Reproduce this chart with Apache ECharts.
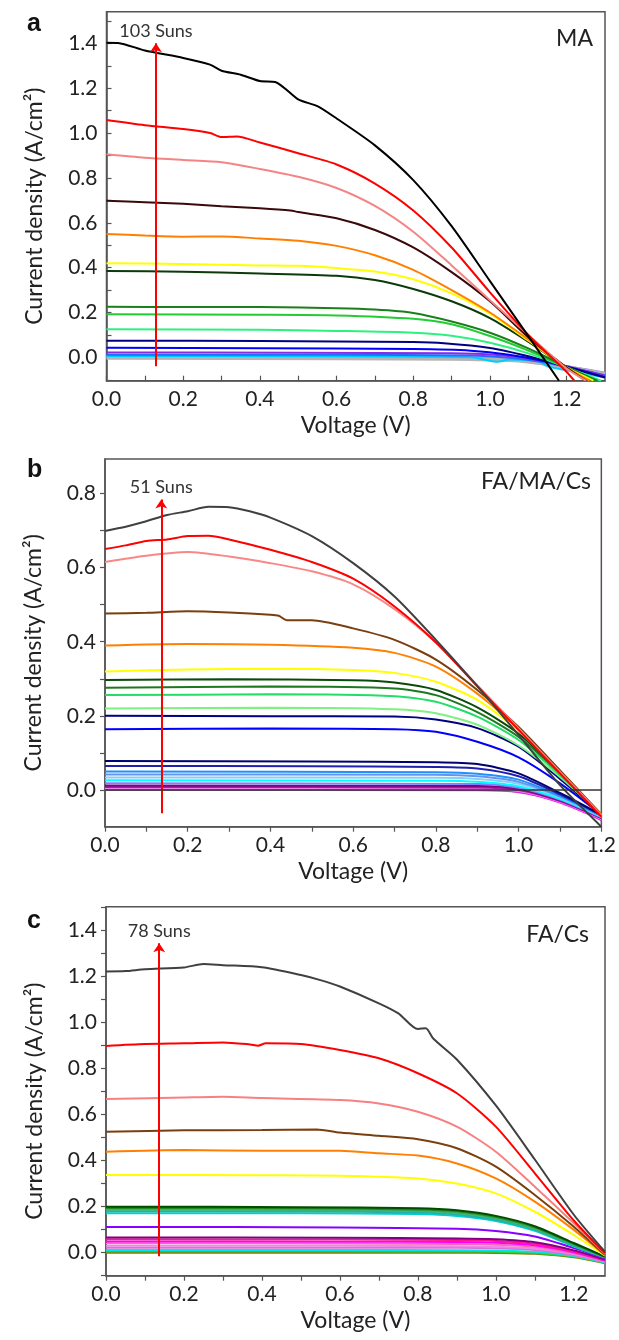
<!DOCTYPE html>
<html>
<head>
<meta charset="utf-8">
<script src="https://cdn.jsdelivr.net/npm/echarts@6.0.0/dist/echarts.min.js"></script>
<style>
  html, body { margin: 0; padding: 0; background: #fff; }
  #chart { width: 619px; height: 1340px; }
</style>
</head>
<body>
<div id="chart"></div>
<script>
// ---------- data ----------
const panelLetters = ["a", "b", "c"];
const panelNames = ["MA", "FA/MA/Cs", "FA/Cs"];
const sunsLabels = ["103 Suns", "51 Suns", "78 Suns"];

// arrow: [voltage, J start, J end]
const maArrow = [0.129, -0.04, 1.40];
const fmcArrow = [0.136, -0.063, 0.784];
const fcArrow = [0.1365, -0.015, 1.345];

const xLabelValues = [0, 0.2, 0.4, 0.6, 0.8, 1.0, 1.2];
const xTickValues = [0, 0.1, 0.2, 0.3, 0.4, 0.5, 0.6, 0.7, 0.8, 0.9, 1.0, 1.1, 1.2];
const maYLabels = [0, 0.2, 0.4, 0.6, 0.8, 1.0, 1.2, 1.4];
const maYTicks = [-0.1, 0, 0.1, 0.2, 0.3, 0.4, 0.5, 0.6, 0.7, 0.8, 0.9, 1.0, 1.1, 1.2, 1.3, 1.4, 1.5];
const fmcYLabels = [0, 0.2, 0.4, 0.6, 0.8];
const fmcYTicks = [-0.1, 0, 0.1, 0.2, 0.3, 0.4, 0.5, 0.6, 0.7, 0.8];
const fcYLabels = [0, 0.2, 0.4, 0.6, 0.8, 1.0, 1.2, 1.4];
const fcYTicks = [-0.1, 0, 0.1, 0.2, 0.3, 0.4, 0.5, 0.6, 0.7, 0.8, 0.9, 1.0, 1.1, 1.2, 1.3, 1.4, 1.5];

// panel a: MA, J-V curves [V, J] from highest to lowest intensity
const maCurves = [
  [[0,1.403],[0.03,1.402],[0.1,1.368],[0.2,1.335],[0.27,1.305],[0.3,1.278],[0.35,1.26],[0.4,1.232],[0.44,1.228],[0.5,1.15],[0.55,1.12],[0.6,1.065],[0.7,0.945],[0.8,0.79],[0.9,0.585],[1.0,0.34],[1.1,0.095],[1.18,-0.104]],
  [[0,1.058],[0.1,1.035],[0.2,1.018],[0.27,1.0],[0.3,0.982],[0.34,0.985],[0.4,0.958],[0.5,0.91],[0.6,0.86],[0.7,0.775],[0.8,0.655],[0.9,0.49],[1.0,0.29],[1.1,0.1],[1.2,-0.065],[1.22,-0.104]],
  [[0,0.905],[0.1,0.89],[0.2,0.88],[0.3,0.87],[0.4,0.84],[0.5,0.805],[0.6,0.755],[0.7,0.675],[0.8,0.56],[0.9,0.41],[1.0,0.255],[1.1,0.1],[1.2,-0.05],[1.25,-0.104]],
  [[0,0.698],[0.1,0.692],[0.2,0.685],[0.3,0.674],[0.4,0.665],[0.48,0.655],[0.5,0.648],[0.6,0.62],[0.7,0.568],[0.8,0.49],[0.9,0.38],[1.0,0.25],[1.1,0.09],[1.2,-0.045],[1.25,-0.104]],
  [[0,0.55],[0.1,0.543],[0.2,0.538],[0.3,0.539],[0.4,0.53],[0.5,0.52],[0.6,0.497],[0.7,0.455],[0.8,0.39],[0.9,0.3],[1.0,0.2],[1.1,0.08],[1.2,-0.045],[1.26,-0.104]],
  [[0,0.42],[0.2,0.416],[0.4,0.41],[0.5,0.408],[0.6,0.398],[0.7,0.383],[0.8,0.348],[0.9,0.285],[1.0,0.195],[1.1,0.075],[1.2,-0.045],[1.27,-0.104]],
  [[0,0.385],[0.2,0.382],[0.4,0.374],[0.6,0.364],[0.7,0.345],[0.8,0.305],[0.9,0.25],[1.0,0.175],[1.1,0.07],[1.2,-0.045],[1.27,-0.104]],
  [[0,0.226],[0.2,0.224],[0.4,0.224],[0.6,0.219],[0.7,0.213],[0.8,0.198],[0.9,0.16],[1.0,0.11],[1.1,0.04],[1.2,-0.042],[1.28,-0.104]],
  [[0,0.192],[0.4,0.19],[0.6,0.187],[0.8,0.172],[0.9,0.148],[1.0,0.095],[1.1,0.03],[1.2,-0.045],[1.28,-0.104]],
  [[0,0.125],[0.4,0.123],[0.6,0.118],[0.8,0.11],[0.9,0.096],[1.0,0.065],[1.1,0.018],[1.2,-0.045],[1.29,-0.104]],
  [[0,0.074],[0.4,0.073],[0.8,0.068],[0.88,0.063],[1.0,0.042],[1.1,0.005],[1.2,-0.042],[1.3,-0.09]],
  [[0,0.043],[0.4,0.041],[0.8,0.037],[0.95,0.03],[1.05,0.012],[1.15,-0.02],[1.2,-0.042],[1.3,-0.088]],
  [[0,0.022],[0.5,0.021],[0.9,0.018],[1.0,0.013],[1.1,-0.005],[1.2,-0.04],[1.3,-0.082]],
  [[0,0.012],[0.6,0.012],[0.95,0.008],[1.05,-0.002],[1.15,-0.025],[1.3,-0.08]],
  [[0,0.006],[0.6,0.005],[0.95,0.0],[1.02,-0.02],[1.05,-0.01],[1.13,-0.02],[1.15,-0.04],[1.3,-0.09]],
  [[0,-0.002],[0.6,-0.004],[0.9,-0.006],[1.05,-0.012],[1.15,-0.03],[1.3,-0.075]],
  [[0,0.003],[0.9,0.0],[1.05,-0.008],[1.15,-0.028],[1.22,-0.045],[1.3,-0.068]]
];

// panel b: FA/MA/Cs
const fmcCurves = [
  [[0,0.699],[0.05,0.71],[0.1,0.725],[0.15,0.742],[0.2,0.752],[0.25,0.764],[0.3,0.763],[0.35,0.752],[0.4,0.735],[0.5,0.685],[0.6,0.612],[0.7,0.522],[0.8,0.405],[0.9,0.28],[1.0,0.148],[1.1,0.013],[1.2,-0.099]],
  [[0,0.65],[0.05,0.66],[0.1,0.672],[0.15,0.676],[0.2,0.685],[0.25,0.686],[0.3,0.676],[0.4,0.648],[0.5,0.615],[0.6,0.57],[0.7,0.495],[0.8,0.398],[0.9,0.28],[1.0,0.162],[1.1,0.045],[1.2,-0.072]],
  [[0,0.615],[0.1,0.632],[0.2,0.642],[0.3,0.63],[0.4,0.612],[0.5,0.59],[0.6,0.555],[0.7,0.488],[0.8,0.398],[0.9,0.283],[1.0,0.166],[1.1,0.049],[1.2,-0.068]],
  [[0,0.476],[0.1,0.478],[0.2,0.482],[0.3,0.479],[0.4,0.473],[0.42,0.47],[0.44,0.458],[0.5,0.458],[0.6,0.436],[0.7,0.405],[0.8,0.352],[0.9,0.27],[1.0,0.17],[1.1,0.053],[1.2,-0.067]],
  [[0,0.39],[0.2,0.394],[0.4,0.392],[0.6,0.384],[0.7,0.37],[0.8,0.333],[0.9,0.26],[1.0,0.165],[1.1,0.052],[1.2,-0.066]],
  [[0,0.32],[0.2,0.325],[0.4,0.327],[0.6,0.324],[0.7,0.316],[0.8,0.292],[0.9,0.243],[1.0,0.16],[1.1,0.05],[1.2,-0.066]],
  [[0,0.297],[0.3,0.299],[0.6,0.296],[0.7,0.29],[0.8,0.27],[0.9,0.223],[1.0,0.152],[1.1,0.048],[1.2,-0.066]],
  [[0,0.276],[0.4,0.279],[0.7,0.274],[0.8,0.256],[0.9,0.21],[1.0,0.143],[1.1,0.045],[1.2,-0.066]],
  [[0,0.256],[0.4,0.258],[0.7,0.253],[0.8,0.238],[0.9,0.198],[1.0,0.135],[1.1,0.04],[1.2,-0.066]],
  [[0,0.22],[0.4,0.222],[0.7,0.218],[0.8,0.207],[0.9,0.176],[1.0,0.12],[1.1,0.035],[1.2,-0.066]],
  [[0,0.2],[0.4,0.199],[0.7,0.198],[0.8,0.19],[0.9,0.167],[1.0,0.117],[1.1,0.03],[1.2,-0.066]],
  [[0,0.164],[0.4,0.166],[0.7,0.164],[0.8,0.157],[0.9,0.13],[1.0,0.088],[1.1,0.018],[1.2,-0.066]],
  [[0,0.078],[0.5,0.077],[0.8,0.075],[0.9,0.07],[1.0,0.045],[1.1,-0.008],[1.2,-0.067]],
  [[0,0.065],[0.5,0.064],[0.8,0.062],[0.9,0.058],[1.0,0.037],[1.1,-0.012],[1.2,-0.068]],
  [[0,0.05],[0.8,0.048],[0.9,0.044],[1.0,0.028],[1.1,-0.016],[1.2,-0.07]],
  [[0,0.042],[0.8,0.041],[0.9,0.037],[1.0,0.022],[1.1,-0.018],[1.2,-0.07]],
  [[0,0.034],[0.8,0.033],[0.9,0.03],[1.0,0.017],[1.1,-0.02],[1.2,-0.072]],
  [[0,0.026],[0.8,0.025],[0.9,0.022],[1.0,0.01],[1.1,-0.024],[1.2,-0.072]],
  [[0,0.018],[0.9,0.016],[1.0,0.006],[1.1,-0.026],[1.2,-0.074]],
  [[0,0.012],[0.9,0.011],[1.0,0.003],[1.1,-0.028],[1.2,-0.075]],
  [[0,0.008],[0.9,0.007],[1.0,0.0],[1.1,-0.03],[1.2,-0.076]],
  [[0,0.004],[0.9,0.003],[1.0,-0.003],[1.1,-0.032],[1.2,-0.078]],
  [[0,0.002],[0.9,0.001],[1.0,-0.005],[1.1,-0.034],[1.2,-0.08]],
  [[0,0.0],[0.9,-0.001],[1.0,-0.006],[1.1,-0.03],[1.2,-0.082]]
];

// panel c: FA/Cs
const fcCurves = [
  [[0,1.222],[0.05,1.224],[0.1,1.232],[0.2,1.24],[0.25,1.255],[0.3,1.25],[0.4,1.241],[0.5,1.207],[0.55,1.185],[0.6,1.157],[0.7,1.084],[0.75,1.04],[0.8,0.972],[0.82,0.976],[0.84,0.93],[0.9,0.84],[1.0,0.64],[1.1,0.405],[1.2,0.165],[1.28,0.004]],
  [[0,0.899],[0.1,0.907],[0.2,0.91],[0.3,0.914],[0.37,0.905],[0.39,0.9],[0.41,0.91],[0.5,0.907],[0.6,0.881],[0.7,0.845],[0.8,0.78],[0.9,0.693],[1.0,0.548],[1.1,0.345],[1.2,0.14],[1.28,-0.003]],
  [[0,0.668],[0.2,0.675],[0.3,0.678],[0.4,0.672],[0.6,0.664],[0.7,0.649],[0.8,0.613],[0.9,0.548],[1.0,0.439],[1.1,0.287],[1.2,0.128],[1.28,-0.006]],
  [[0,0.526],[0.2,0.532],[0.4,0.533],[0.54,0.536],[0.6,0.522],[0.7,0.508],[0.8,0.493],[0.9,0.454],[1.0,0.374],[1.1,0.251],[1.2,0.113],[1.28,-0.01]],
  [[0,0.439],[0.2,0.446],[0.4,0.443],[0.6,0.443],[0.7,0.432],[0.8,0.422],[0.9,0.388],[1.0,0.323],[1.1,0.222],[1.2,0.099],[1.28,-0.01]],
  [[0,0.338],[0.4,0.337],[0.6,0.335],[0.8,0.323],[0.9,0.301],[1.0,0.258],[1.1,0.178],[1.2,0.077],[1.28,-0.013]],
  [[0,0.2],[0.5,0.198],[0.8,0.193],[0.9,0.184],[1.0,0.16],[1.1,0.115],[1.2,0.042],[1.28,-0.017]],
  [[0,0.194],[0.5,0.193],[0.8,0.188],[0.9,0.179],[1.0,0.155],[1.1,0.11],[1.2,0.038],[1.28,-0.018]],
  [[0,0.187],[0.5,0.186],[0.8,0.181],[0.9,0.172],[1.0,0.149],[1.1,0.104],[1.2,0.034],[1.28,-0.019]],
  [[0,0.18],[0.5,0.179],[0.8,0.175],[0.9,0.166],[1.0,0.143],[1.1,0.099],[1.2,0.03],[1.28,-0.02]],
  [[0,0.172],[0.5,0.171],[0.8,0.168],[0.9,0.16],[1.0,0.138],[1.1,0.095],[1.2,0.027],[1.28,-0.021]],
  [[0,0.112],[0.6,0.11],[0.9,0.104],[1.0,0.094],[1.1,0.07],[1.2,0.02],[1.28,-0.025]],
  [[0,0.066],[0.6,0.065],[0.9,0.062],[1.0,0.058],[1.1,0.045],[1.2,0.01],[1.28,-0.03]],
  [[0,0.058],[0.6,0.057],[0.9,0.055],[1.0,0.051],[1.1,0.039],[1.2,0.006],[1.28,-0.032]],
  [[0,0.049],[0.6,0.048],[0.9,0.046],[1.0,0.043],[1.1,0.032],[1.2,0.002],[1.28,-0.034]],
  [[0,0.041],[0.6,0.04],[0.9,0.038],[1.0,0.035],[1.1,0.026],[1.2,-0.002],[1.28,-0.036]],
  [[0,0.03],[0.6,0.03],[0.9,0.028],[1.0,0.026],[1.1,0.018],[1.2,-0.006],[1.28,-0.038]],
  [[0,0.022],[0.6,0.022],[0.9,0.021],[1.0,0.019],[1.1,0.012],[1.2,-0.01],[1.28,-0.04]],
  [[0,0.012],[0.6,0.012],[0.9,0.011],[1.0,0.01],[1.1,0.004],[1.2,-0.014],[1.28,-0.042]],
  [[0,0.006],[0.6,0.006],[0.9,0.005],[1.0,0.004],[1.1,-0.001],[1.2,-0.017],[1.28,-0.044]],
  [[0,0.0],[0.6,0.0],[0.9,0.0],[1.0,-0.001],[1.1,-0.005],[1.2,-0.02],[1.28,-0.046]]
];

// ---------- styling ----------
const maColors = ["#000000", "#ff0000", "#f58484", "#3a0a0a", "#ff8000", "#ffff00", "#0b3a0b", "#1a801a",
  "#22cc33", "#2ef080", "#000080", "#0000ff", "#8a2be2", "#1e6fff", "#00ccff", "#b4b4b4", "#8080ff"];
const fmcColors = ["#404040", "#ff0000", "#f88888", "#7a3f0f", "#ff8000", "#ffff00", "#0a4a0a", "#1e781e",
  "#22dd66", "#80f080", "#000080", "#0000ff", "#000070", "#2020b0", "#1e90ff", "#6495ed", "#87cefa",
  "#00ffff", "#8080ff", "#800080", "#a020a0", "#ee82ee", "#ff00ff", "#909090"];
const fcColors = ["#404040", "#ff0000", "#f88080", "#7a3f0f", "#ff8000", "#ffff00", "#004d00", "#228b22",
  "#3cb371", "#20b2aa", "#00ced1", "#8800ff", "#800080", "#ff1493", "#ff00ff", "#ff69b4", "#ee82ee",
  "#da70d6", "#00e5e5", "#32cd32", "#808000"];

const FONT = "Lato";
const AXIS_COLOR = "#555";
const TEXT_COLOR = "#222";

const grids = [
  { left: 106.5, top: 11.7, right: 14, height: 369 },
  { left: 105, top: 459, right: 15.7, height: 367.7 },
  { left: 106, top: 906.7, right: 14, height: 369 }
];
const xMax = [1.3, 1.2, 1.28];
const yMin = [-0.104, -0.099, -0.1];
const yMax = [1.541, 0.893, 1.504];
const ticksInside = [true, false, false];
const yLabelSets = [maYLabels, fmcYLabels, fcYLabels];
const yTickSets = [maYTicks, fmcYTicks, fcYTicks];
const curveSets = [maCurves, fmcCurves, fcCurves];
const colorSets = [maColors, fmcColors, fcColors];
const arrows = [maArrow, fmcArrow, fcArrow];
const fmt = v => (Math.round(v * 10) / 10).toFixed(1);

const chart = echarts.init(document.getElementById("chart"), null, { renderer: "canvas" });

const xAxes = grids.map((g, i) => ({
  type: "value", gridIndex: i, min: 0, max: xMax[i],
  name: "Voltage (V)", nameLocation: "middle", nameGap: 33,
  nameTextStyle: { fontFamily: FONT, fontSize: 23, color: TEXT_COLOR },
  axisLine: { show: true, onZero: false, lineStyle: { color: AXIS_COLOR, width: 1.5 } },
  axisTick: { show: true, inside: ticksInside[i], length: 5,
    customValues: xTickValues.filter(v => v <= xMax[i] + 1e-9),
    lineStyle: { color: AXIS_COLOR, width: 1.2 } },
  axisLabel: { customValues: xLabelValues, formatter: fmt, fontFamily: FONT, fontSize: 21,
    color: TEXT_COLOR, margin: 8 },
  splitLine: { show: false }
}));

const yAxes = grids.map((g, i) => ({
  type: "value", gridIndex: i, min: yMin[i], max: yMax[i],
  name: "Current density (A/cm\u00b2)", nameLocation: "middle", nameRotate: 90, nameGap: 60,
  nameTextStyle: { fontFamily: FONT, fontSize: 23, color: TEXT_COLOR, padding: [0, 20, 0, 0] },
  axisLine: { show: true, onZero: false, lineStyle: { color: AXIS_COLOR, width: 1.5 } },
  axisTick: { show: true, inside: ticksInside[i], length: 5,
    customValues: yTickSets[i].filter(v => v >= yMin[i] && v <= yMax[i]),
    lineStyle: { color: AXIS_COLOR, width: 1.2 } },
  axisLabel: { customValues: yLabelSets[i], formatter: fmt, fontFamily: FONT, fontSize: 21,
    color: TEXT_COLOR, margin: 9 },
  splitLine: { show: false }
}));

const series = [];
curveSets.forEach((curves, p) => {
  // lowest curves first so the bright ones sit on top
  for (let k = curves.length - 1; k >= 0; k--) {
    series.push({
      type: "line", xAxisIndex: p, yAxisIndex: p, data: curves[k],
      showSymbol: false, smooth: 0.25, silent: true,
      lineStyle: { width: colorSets[p][k] === "#b4b4b4" ? 4 : 2, color: colorSets[p][k] },
      z: 2
    });
  }
  const a = arrows[p];
  series.push({
    type: "line", xAxisIndex: p, yAxisIndex: p, data: [], silent: true, z: 5,
    markLine: {
      silent: true, animation: false,
      symbol: ["none", "arrow"], symbolSize: 9,
      lineStyle: { color: "#ff0000", width: 2, type: "solid" },
      label: { show: true, position: "end", distance: 3, formatter: sunsLabels[p],
        fontFamily: FONT, fontSize: 18, color: "#333" },
      data: [[{ coord: [a[0], a[1]] }, { coord: [a[0], a[2]] }]]
    }
  });
});

// zero reference line in panel b
series.push({
  type: "line", xAxisIndex: 1, yAxisIndex: 1, data: [], silent: true, z: 1,
  markLine: {
    silent: true, animation: false, symbol: ["none", "none"],
    lineStyle: { color: "#333", width: 1.5, type: "solid" },
    label: { show: false },
    data: [{ yAxis: 0 }]
  }
});

const letterTops = [7, 453, 904];
const nameTops = [22, 465, 918];
const nameRights = [21, 23, 25];
const titles = [];
panelLetters.forEach((t, i) => {
  titles.push({ text: t, left: 22, top: letterTops[i],
    textStyle: { fontFamily: "Liberation Sans", fontWeight: "bold", fontSize: 25, color: "#111" } });
  titles.push({ text: panelNames[i], right: nameRights[i], top: nameTops[i],
    textStyle: { fontFamily: FONT, fontWeight: "normal", fontSize: 23, color: TEXT_COLOR } });
});

chart.setOption({
  animation: false,
  backgroundColor: "#fff",
  title: titles,
  grid: grids.map(g => Object.assign({ show: true, borderColor: AXIS_COLOR, borderWidth: 1.5,
    backgroundColor: "transparent" }, g)),
  xAxis: xAxes,
  yAxis: yAxes,
  series: series
});
</script>
</body>
</html>
